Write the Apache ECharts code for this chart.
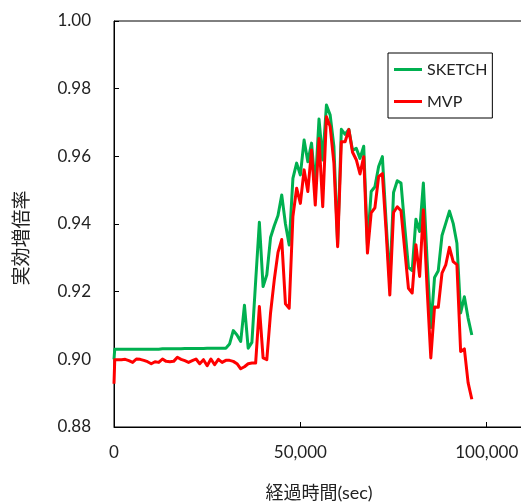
<!DOCTYPE html>
<html>
<head>
<meta charset="utf-8">
<script src="https://cdn.jsdelivr.net/npm/echarts@6/dist/echarts.min.js"></script>
<style>
html,body{margin:0;padding:0;background:#fff;}
#chart{width:521px;height:503px;}
</style>
</head>
<body>
<div id="chart"></div>
<script>
// elapsed time (sec): first sample at 0, then 200, then every 1000 s up to 97,000
const TIMES = [0, 200].concat(Array.from({length: 97}, (_, i) => (i + 1) * 1000));

// SKETCH effective multiplication factor
const SKETCH = [
  0.9000, 0.9030,
  0.9030, 0.9030, 0.9030, 0.9030, 0.9030, 0.9030, 0.9030, 0.9030, 0.9030, 0.9030,
  0.9030, 0.9030, 0.9031, 0.9031, 0.9031, 0.9031, 0.9031, 0.9031, 0.9032, 0.9032,
  0.9032, 0.9032, 0.9032, 0.9032, 0.9033, 0.9033, 0.9033, 0.9033, 0.9033, 0.9033,
  0.9045, 0.9085, 0.9072, 0.9053, 0.9160, 0.9033, 0.9050, 0.9230,
  0.9405, 0.9215, 0.9250, 0.9360, 0.9395, 0.9425, 0.9486, 0.9400, 0.9338, 0.9535,
  0.9580, 0.9545, 0.9648, 0.9584, 0.9639, 0.9510, 0.9710, 0.9589, 0.9752, 0.9722,
  0.9629, 0.9340, 0.9680, 0.9665, 0.9680, 0.9617, 0.9624, 0.9594, 0.9630, 0.9338,
  0.9496, 0.9510, 0.9570, 0.9599, 0.9407, 0.9225, 0.9493, 0.9528, 0.9521, 0.9392,
  0.9272, 0.9262, 0.9414, 0.9378, 0.9521, 0.9294, 0.9094, 0.9242, 0.9262, 0.9366,
  0.9402, 0.9438, 0.9402, 0.9343, 0.9137, 0.9185, 0.9122, 0.9072
];

// MVP effective multiplication factor
const MVP = [
  0.8928, 0.8999,
  0.8999, 0.8999, 0.9000, 0.8996, 0.8991, 0.9001, 0.9000, 0.8997, 0.8993, 0.8987,
  0.8993, 0.8991, 0.9001, 0.8994, 0.8993, 0.8994, 0.9006, 0.9000, 0.8996, 0.8991,
  0.8996, 0.9001, 0.8987, 0.8999, 0.8981, 0.9001, 0.8984, 0.9000, 0.8991, 0.8997,
  0.8997, 0.8994, 0.8987, 0.8972, 0.8978, 0.8987, 0.8989, 0.8989,
  0.9156, 0.9004, 0.8999, 0.9137, 0.9235, 0.9316, 0.9354, 0.9164, 0.9151, 0.9422,
  0.9506, 0.9461, 0.9560, 0.9496, 0.9619, 0.9456, 0.9653, 0.9451, 0.9717, 0.9688,
  0.9580, 0.9333, 0.9643, 0.9643, 0.9679, 0.9612, 0.9590, 0.9548, 0.9599, 0.9314,
  0.9433, 0.9448, 0.9540, 0.9549, 0.9380, 0.9190, 0.9434, 0.9451, 0.9439, 0.9324,
  0.9210, 0.9196, 0.9339, 0.9245, 0.9442, 0.9210, 0.9004, 0.9155, 0.9154, 0.9255,
  0.9279, 0.9331, 0.9289, 0.9280, 0.9023, 0.9031, 0.8931, 0.8882
];

const SERIES_NAMES = ['SKETCH', 'MVP'];
const X_TICKS = [0, 50000, 100000];
const Y_TICKS = [0.88, 0.90, 0.92, 0.94, 0.96, 0.98, 1.00];
const X_NAME = '経過時間(sec)';
const Y_NAME = '実効増倍率';

const pairs = (vals) => TIMES.map((t, i) => [t, vals[i]]);
const FONT = 'Lato, "Noto Sans CJK JP", sans-serif';

const chart = echarts.init(document.getElementById('chart'), null, {renderer: 'canvas'});
chart.setOption({
  animation: false,
  backgroundColor: '#ffffff',
  grid: {
    left: 114, top: 21, width: 410, height: 406,
    outerBoundsMode: 'none', containLabel: false,
    show: true, borderColor: '#000', borderWidth: 1, backgroundColor: 'transparent'
  },
  legend: {
    orient: 'vertical',
    left: 388, top: 53,
    data: SERIES_NAMES.map(n => ({name: n, icon: 'rect'})),
    backgroundColor: '#fff',
    borderColor: '#000', borderWidth: 1,
    padding: [8, 5, 8, 6],
    itemWidth: 28, itemHeight: 3, itemGap: 15,
    textStyle: {fontFamily: FONT, fontSize: 16, color: '#222', lineHeight: 17}
  },
  xAxis: {
    type: 'value',
    min: 0, max: 110000, interval: 50000,
    name: X_NAME, nameLocation: 'middle', nameGap: 57,
    nameTextStyle: {fontFamily: FONT, fontSize: 18, color: '#222'},
    axisLine: {show: true, lineStyle: {color: '#000', width: 1}},
    axisTick: {show: true, inside: true, length: 5, lineStyle: {color: '#000'}},
    splitLine: {show: false},
    axisLabel: {
      showMaxLabel: false, margin: 17,
      fontFamily: FONT, fontSize: 17, color: '#222',
      formatter: (v) => X_TICKS.includes(v) ? v.toLocaleString('en-US') : ''
    }
  },
  yAxis: {
    type: 'value',
    min: Y_TICKS[0], max: Y_TICKS[Y_TICKS.length - 1], interval: 0.02,
    axisLine: {show: true, lineStyle: {color: '#000', width: 1}},
    axisTick: {show: true, inside: true, length: 5, lineStyle: {color: '#000'}},
    splitLine: {show: false},
    axisLabel: {
      margin: 23, fontFamily: FONT, fontSize: 17, color: '#222',
      formatter: (v) => v.toFixed(2)
    }
  },
  graphic: [{
    type: 'text',
    x: 22, y: 238,
    rotation: Math.PI / 2,
    style: {
      text: Y_NAME, fontFamily: FONT, fontSize: 19, fill: '#222',
      textAlign: 'center', textVerticalAlign: 'middle'
    }
  }],
  series: [
    {
      name: SERIES_NAMES[0], type: 'line', data: pairs(SKETCH),
      symbol: 'none', color: '#00B050',
      lineStyle: {width: 3, color: '#00B050', join: 'round'}, z: 2
    },
    {
      name: SERIES_NAMES[1], type: 'line', data: pairs(MVP),
      symbol: 'none', color: '#FF0000',
      lineStyle: {width: 3, color: '#FF0000', join: 'round'}, z: 3
    }
  ]
});
</script>
</body>
</html>
